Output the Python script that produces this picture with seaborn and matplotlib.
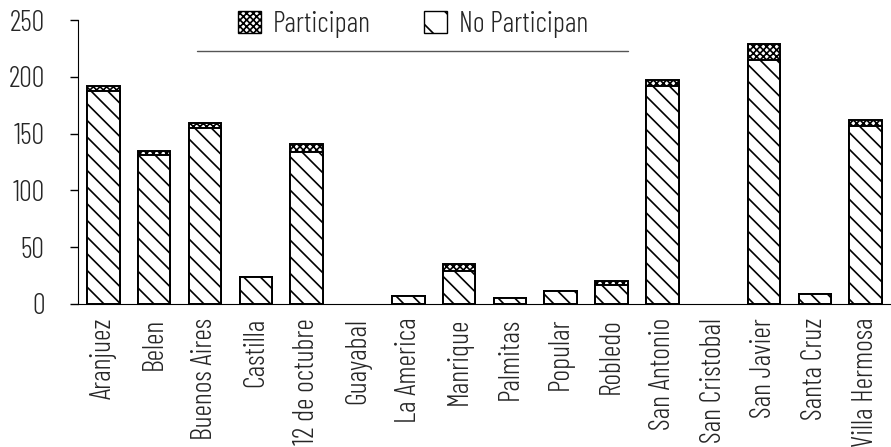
import matplotlib
matplotlib.use("Agg")
import matplotlib.pyplot as plt
from matplotlib.patches import Patch
import seaborn as sns

categories = ["Aranjuez", "Belen", "Buenos Aires", "Castilla", "12 de octubre",
              "Guayabal", "La America", "Manrique", "Palmitas", "Popular",
              "Robledo", "San Antonio", "San Cristobal", "San Javier",
              "Santa Cruz", "Villa Hermosa"]
no_participan = [188, 131, 155, 24, 134, 0, 7, 29, 5, 11, 17, 192, 0, 215, 9, 157]
participan = [4, 4, 4, 0, 7, 0, 0, 6, 0, 0, 3, 5, 0, 14, 0, 5]
totales = [a + b for a, b in zip(no_participan, participan)]

sns.set_style("ticks")
plt.rcParams["font.family"] = ["Barlow Condensed", "DejaVu Sans"]
plt.rcParams["font.weight"] = 300
plt.rcParams["hatch.linewidth"] = 1.2

fig = plt.figure(figsize=(8.91, 4.47), dpi=100)
ax = fig.add_axes([0.0875, 0.32, 0.9125, 0.635])

# stacked: total drawn first (Participan on top), then No Participan over it
sns.barplot(x=categories, y=totales, color="white", edgecolor="black",
            linewidth=1.4, hatch="xxxxx", width=0.64, ax=ax)
sns.barplot(x=categories, y=no_participan, color="white", edgecolor="black",
            linewidth=1.4, hatch="\\\\", width=0.64, ax=ax)
# empty bars leave no outline in the original
for p in ax.patches:
    if p.get_height() == 0:
        p.set_visible(False)

ax.set_ylim(0, 250)
ax.set_xlim(-0.5, len(categories) - 0.5)
ax.set_yticks([0, 50, 100, 150, 200, 250])
ax.tick_params(axis="y", labelsize=20.5, length=6, width=1, pad=18, color="black")
ax.tick_params(axis="x", labelsize=20.5, length=0, pad=10, rotation=90)
for lab in ax.get_xticklabels():
    lab.set_verticalalignment("top")
ax.set_xlabel("")
ax.set_ylabel("")
sns.despine(ax=ax)
ax.spines["left"].set_color("black")
ax.spines["bottom"].set_color("black")

handles = [Patch(facecolor="white", edgecolor="black", hatch="xxxxx", label="Participan"),
           Patch(facecolor="white", edgecolor="black", hatch="\\", label="No Participan")]
ax.legend(handles=handles, loc="center", bbox_to_anchor=(0.412, 0.985), ncol=2,
          frameon=False, fontsize=20.5, handlelength=0.8, handleheight=0.8,
          handletextpad=0.4, columnspacing=1.9)
ax.plot([0.146, 0.677], [0.89, 0.89], transform=ax.transAxes, color="#555555",
        lw=1, clip_on=False)

fig.savefig("out.png", dpi=100)
